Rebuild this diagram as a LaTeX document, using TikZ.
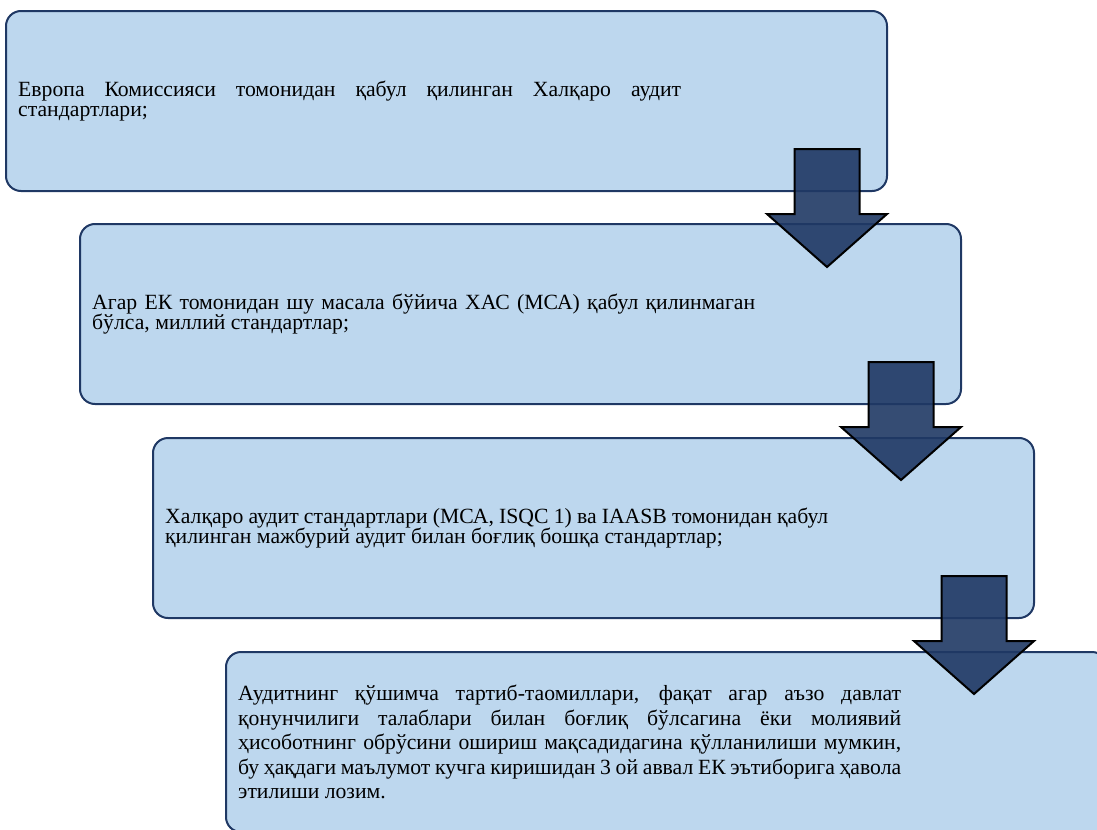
\documentclass[tikz,border=0pt]{standalone}
\usepackage{fontspec}
\setmainfont{Liberation Serif}
\definecolor{boxfill}{RGB}{189,215,238}
\definecolor{boxline}{RGB}{31,56,100}
\definecolor{arrowfill}{RGB}{31,56,100}
\newcommand\stagesetup{\hyphenpenalty=10000 \exhyphenpenalty=10000 \tolerance=10000 \relax}
\begin{document}
\begin{tikzpicture}[x=1bp,y=-1bp,
  stagebox/.style={draw=boxline, line width=2bp, fill=boxfill, rounded corners=15bp,
    minimum width=881bp, minimum height=180bp, inner sep=0pt, outer sep=0pt, anchor=north west},
  stagetext/.style={anchor=west, text width=663bp, align=justify, inner sep=0pt, xshift=12bp,
    font=\fontsize{21.7bp}{20.5bp}\selectfont\stagesetup},
  longtext/.style={stagetext, font=\fontsize{21.7bp}{24.5bp}\selectfont\stagesetup},
  downarrow/.style={draw=black, line width=2bp, fill=arrowfill, fill opacity=0.9, line join=miter}
]
\useasboundingbox (0,0) rectangle (1097,830);
\begin{scope}
\clip (0,0) rectangle (1097,830);
\node[stagebox] (b1) at (6,11) {};
\node[stagebox] (b2) at (80,224) {};
\node[stagebox] (b3) at (153,438) {};
\node[stagebox] (b4) at (226,652) {};
\node[stagetext] (t1) at (b1.west) {Европа Комиссияси томонидан қабул қилинган Халқаро аудит\linebreak стандартлари;};
\node[stagetext] (t2) at (b2.west) {Агар ЕК томонидан шу масала бўйича ХАС (МСА) қабул қилинмаган\linebreak бўлса, миллий стандартлар;};
\node[stagetext] (t3) at (b3.west) {Халқаро аудит стандартлари (МСА, ISQC 1) ва IAASB томонидан қабул\linebreak қилинган мажбурий аудит билан боғлиқ бошқа стандартлар;};
\node[longtext] (t4) at (b4.west) {Аудитнинг қўшимча тартиб-таомиллари, фақат агар аъзо давлат\linebreak қонунчилиги талаблари билан боғлиқ бўлсагина ёки молиявий\linebreak ҳисоботнинг обрўсини ошириш мақсадидагина қўлланилиши мумкин,\linebreak бу ҳақдаги маълумот кучга киришидан 3 ой аввал ЕК эътиборига ҳавола\linebreak этилиши лозим.};
\foreach \b in {b1,b2,b3}{
  \draw[downarrow] ([xshift=-92.5bp,yshift=42bp]\b.south east) -- ++(65,0) -- ++(0,65) -- ++(27.5,0)
    -- ++(-60,53) -- ++(-60,-53) -- ++(27.5,0) -- cycle;
}
\end{scope}
\end{tikzpicture}
\end{document}
